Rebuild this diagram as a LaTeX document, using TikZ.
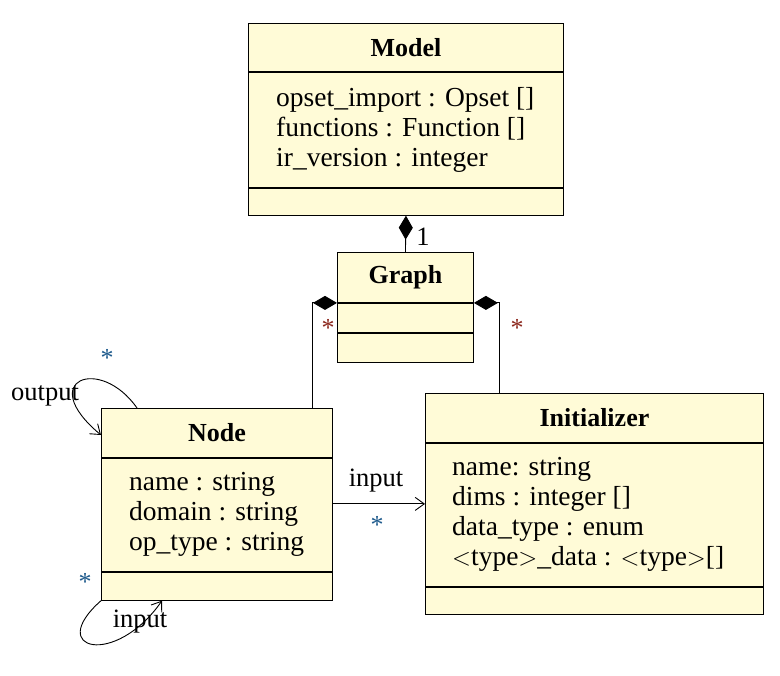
\documentclass[tikz,border=0pt]{standalone}
\usepackage{fontspec}
\setmainfont{Liberation Serif}
\usetikzlibrary{positioning,arrows.meta}
\definecolor{classfill}{RGB}{255,251,215}
\definecolor{starblue}{RGB}{30,90,140}
\definecolor{starred}{RGB}{140,40,30}

\tikzset{
  umlpart/.style={draw=black, fill=classfill, line width=0.9pt, inner sep=0pt},
  umltitle/.style={umlpart, font=\fontsize{26}{30}\selectfont\bfseries},
  attrtext/.style={inner sep=0pt, align=left, font=\fontsize{27.5}{30}\selectfont},
  lbl/.style={inner sep=0pt, font=\fontsize{26.5}{30}\selectfont},
  mult/.style={inner sep=0pt, font=\fontsize{26}{30}\selectfont},
  composite/.style={line width=0.9pt, {Diamond[length=24pt,width=14pt]}-},
  assoc/.style={line width=0.9pt, -{Straight Barb[length=9pt,width=13pt]}}
}

\begin{document}
\begin{tikzpicture}[x=1pt, y=-1pt]
\useasboundingbox (0,0) rectangle (780,676);

% Model
\node[umltitle, anchor=north west, minimum width=315pt, minimum height=48pt] (modelT) at (248,23) {Model};
\node[umlpart, below=0pt of modelT, minimum width=315pt, minimum height=115pt] (modelA) {};
\node[umlpart, below=0pt of modelA, minimum width=315pt, minimum height=27pt] (modelO) {};
\node[attrtext, right=28pt of modelA.west] (modelAT) {opset\_import : Opset []\\functions : Function []\\ir\_version : integer};

% Graph
\node[umltitle, anchor=north west, minimum width=136pt, minimum height=50pt] (graphT) at (337,252) {Graph};
\node[umlpart, below=0pt of graphT, minimum width=136pt, minimum height=29pt] (graphA) {};
\node[umlpart, below=0pt of graphA, minimum width=136pt, minimum height=29pt] (graphO) {};

% Node
\node[umltitle, anchor=north west, minimum width=231pt, minimum height=49pt] (nodeT) at (101,408) {Node};
\node[umlpart, below=0pt of nodeT, minimum width=231pt, minimum height=113pt] (nodeA) {};
\node[umlpart, below=0pt of nodeA, minimum width=231pt, minimum height=28pt] (nodeO) {};
\node[attrtext, right=28pt of nodeA.west] (nodeAT) {name : string\\domain : string\\op\_type : string};

% Initializer
\node[umltitle, anchor=north west, minimum width=338pt, minimum height=49pt] (initT) at (425,393) {Initializer};
\node[umlpart, below=0pt of initT, minimum width=338pt, minimum height=143pt] (initA) {};
\node[umlpart, below=0pt of initA, minimum width=338pt, minimum height=27pt] (initO) {};
\node[attrtext, right=27pt of initA.west] (initAT) {name: string\\dims : integer []\\data\_type : enum\\$<$type$>$\_data : $<$type$>$[]};

% compositions
\draw[composite] (modelO.south) -- (graphT.north);
\draw[composite] (graphA.north west) -| ([xshift=211pt]nodeT.north west);
\draw[composite] (graphA.north east) -| ([xshift=74pt]initT.north west);
\node[lbl] (oneM) at (423,237) {1};
\node[mult, text=starred] (starGL) at (328,328) {*};
\node[mult, text=starred] (starGR) at (517,328) {*};

% node -> initializer
\path ([yshift=-46pt]nodeA.north east) coordinate (inS);
\draw[assoc] (inS) -- (inS -| initA.west);
\node[lbl] (inLbl) at (376,481) {input};
\node[mult, text=starblue] (inStar) at (377,525) {*};

% self loops
\draw[assoc] ([xshift=36pt]nodeT.north west) .. controls (100,355) and (35,380) .. ([yshift=-27pt]nodeT.north west);
\node[lbl] (outLbl) at (45,396) {output};
\node[mult, text=starblue] (outStar) at (107,358) {*};

\draw[assoc] (nodeO.south west) .. controls (45,650) and (115,668) .. ([xshift=61pt]nodeO.south west);
\node[lbl] (loopLbl) at (140,622) {input};
\node[mult, text=starblue] (loopStar) at (85,582) {*};
\end{tikzpicture}
\end{document}
